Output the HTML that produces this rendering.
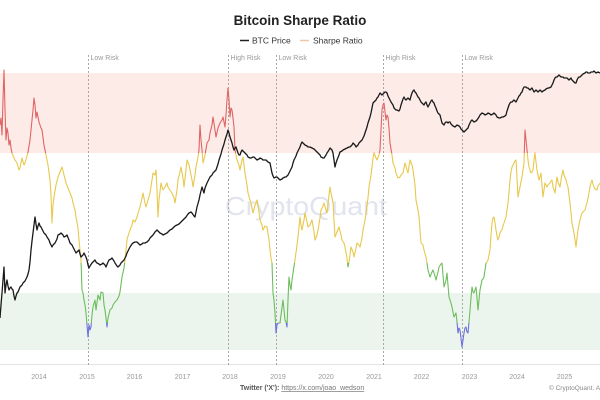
<!DOCTYPE html>
<html>
<head>
<meta charset="utf-8">
<style>
html,body{margin:0;padding:0;background:#fff;}
svg{display:block;}
text{font-family:"Liberation Sans",sans-serif;}
</style>
</head>
<body>
<svg width="600" height="400" viewBox="0 0 600 400" xmlns="http://www.w3.org/2000/svg">
<defs>
<linearGradient id="sg" gradientUnits="userSpaceOnUse" x1="0" y1="0" x2="0" y2="400">
<stop offset="0" stop-color="#e06464"/>
<stop offset="0.3825" stop-color="#e06464"/>
<stop offset="0.3825" stop-color="#e8c84c"/>
<stop offset="0.6575" stop-color="#e8c84c"/>
<stop offset="0.6575" stop-color="#6cbd5c"/>
<stop offset="0.8075" stop-color="#6cbd5c"/>
<stop offset="0.8075" stop-color="#6e70dc"/>
<stop offset="1" stop-color="#6e70dc"/>
</linearGradient>
</defs>
<rect x="0" y="0" width="600" height="400" fill="#fff"/>
<!-- bands -->
<rect x="0" y="73" width="600" height="80" fill="#fdebe8"/>
<rect x="0" y="293" width="600" height="57" fill="#ebf5ed"/>
<!-- watermark -->
<text x="306" y="215" font-size="26" fill="#e1e4ee" text-anchor="middle" textLength="162" lengthAdjust="spacingAndGlyphs">CryptoQuant</text>
<!-- axis line -->
<line x1="0" y1="364.5" x2="600" y2="364.5" stroke="#e4e4e4" stroke-width="1"/>
<!-- dashed lines -->
<g stroke="#a8a8a8" stroke-width="1" stroke-dasharray="2,2">
<line x1="88.5" y1="55" x2="88.5" y2="365"/>
<line x1="228.5" y1="55" x2="228.5" y2="365"/>
<line x1="276.5" y1="55" x2="276.5" y2="365"/>
<line x1="383.5" y1="55" x2="383.5" y2="365"/>
<line x1="462.5" y1="55" x2="462.5" y2="365"/>
</g>
<g font-size="7" fill="#9a9a9a">
<text x="90.5" y="60">Low Risk</text>
<text x="230.5" y="60">High Risk</text>
<text x="278.5" y="60">Low Risk</text>
<text x="385.5" y="60">High Risk</text>
<text x="464.5" y="60">Low Risk</text>
</g>
<!-- Sharpe ratio -->
<polyline fill="none" stroke="url(#sg)" stroke-width="1.1" stroke-linejoin="round" points="0,125 1,118 2,135 3,100 4,70 5,110 6,140 7,128 8,133 9,145 10,140 11,148 12,153 14,158 15,160 17,163 19,170 20,168 22,158 24,165 25,163 27,156 28,152 30,140 31,130 33,110 34,98 35,105 36,118 37,112 39,122 41,128 42,130 44,145 46,155 48,165 50,180 51,195 52,223 53,205 54,197 56,185 58,177 60,172 62,167 64,175 66,183 68,188 70,193 72,198 73,203 75,210 76,217 78,228 79,240 80,250 81,260 82,290 83,293 84,300 85,305 86,313 87,325 88,337 89,325 90,330 91,327 92,315 93,307 95,300 96,310 98,295 100,300 101,292 103,293 104,305 105,310 106,318 107,327 108,318 110,310 112,308 113,305 115,302 117,300 119,296 120,292 122,277 124,268 125,260 127,240 128,236 130,230 132,225 133,220 135,222 137,217 139,210 140,207 142,198 143,193 145,203 146,207 148,200 150,193 152,180 153,173 155,175 156,170 157,190 158,217 159,200 161,183 163,190 165,187 167,183 168,187 170,190 172,193 174,198 175,203 177,190 178,180 180,172 181,167 183,178 184,187 186,170 187,160 189,165 190,170 192,180 193,187 195,175 196,167 198,157 199,150 200,125 201,140 202,150 203,163 205,155 207,143 209,140 210,133 212,125 213,117 215,130 216,137 218,128 220,123 222,120 223,117 225,127 226,115 227,100 228,88 229,100 230,117 231,108 232,110 233,118 234,127 235,150 236,155 237,160 239,165 240,170 242,160 243,157 245,173 247,185 248,193 250,200 251,203 253,213 255,205 257,200 259,212 260,220 262,225 263,230 265,226 267,227 269,240 270,250 271,258 272,263 273,293 274,300 275,313 276,333 277,325 278,323 280,323 281,315 283,300 284,310 285,320 286,322 287,327 288,300 289,277 290,285 291,290 292,280 293,273 295,260 297,245 298,237 300,217 301,225 302,230 304,220 305,213 307,222 308,227 310,225 312,220 314,232 315,240 317,235 318,230 320,218 321,210 323,206 324,203 326,210 327,213 329,195 330,187 331,193 333,203 334,220 335,237 337,232 339,227 341,235 342,240 344,243 345,247 347,258 348,267 349,262 351,247 353,252 354,257 356,248 357,243 359,245 360,247 362,238 363,230 365,220 366,213 368,198 369,187 371,175 372,167 373,158 374,153 376,158 377,160 379,155 380,150 381,130 382,110 383,105 384,103 385,112 386,120 387,115 388,117 389,128 390,143 392,155 393,163 395,168 396,173 398,178 400,177 401,175 403,173 405,163 407,170 408,173 410,160 412,165 413,170 415,185 416,200 418,210 419,217 420,230 421,243 423,245 424,250 426,257 427,263 428,270 430,277 432,272 433,270 435,276 436,280 438,272 439,267 441,264 442,263 443,275 444,287 446,280 447,273 448,285 449,297 451,303 452,307 453,312 454,317 455,315 456,313 457,322 458,333 459,328 460,330 461,338 462,347 463,340 464,333 465,328 466,327 467,332 468,333 469,322 470,310 471,298 472,287 473,292 474,293 475,290 476,287 477,298 478,310 479,300 480,290 481,285 482,280 483,279 484,277 485,270 486,263 487,262 488,260 489,255 490,250 491,235 492,223 493,218 494,217 495,223 496,230 497,236 498,240 499,237 500,233 501,231 502,230 503,226 504,223 505,220 506,217 507,210 508,203 509,192 510,180 511,172 512,167 513,165 514,163 515,161 516,160 517,178 518,197 519,192 520,187 521,182 522,177 523,170 524,163 525,130 526,140 527,150 528,160 529,167 530,170 531,173 532,172 533,170 534,160 535,153 536,162 537,170 538,175 539,180 540,177 541,173 542,185 543,197 544,190 545,183 546,185 547,187 548,185 550,183 551,181 552,180 553,187 555,193 556,185 557,177 558,182 560,187 561,180 563,170 564,175 566,180 567,184 568,187 569,195 570,203 571,213 572,223 573,228 574,233 575,240 576,247 577,238 578,230 579,225 580,220 581,216 582,213 583,212 585,210 586,206 587,203 588,198 589,193 590,187 591,183 592,180 593,184 594,187 595,189 597,190 598,186 600,183"/>
<!-- BTC price -->
<polyline fill="none" stroke="#1a1a1a" stroke-width="1.3" stroke-linejoin="round" points="0,318 1,305 2,293 3,280 4,267 5,293 6,285 7,280 8,286 9,290 10,288 11,287 12,289 13,290 14,296 15,300 16,296 17,293 18,292 20,287 22,285 23,283 25,281 27,277 28,274 29,270 30,262 31,250 32,241 33,233 34,225 35,217 36,224 37,230 38,226 39,223 40,226 41,227 42,229 44,233 46,235 47,237 49,240 50,243 52,247 53,245 55,243 57,239 58,235 60,234 61,233 63,235 64,237 66,236 67,235 69,240 70,243 72,245 73,247 75,251 76,253 78,251 79,250 80,254 81,257 83,255 84,253 86,257 87,260 88,265 89,268 90,266 92,263 94,261 95,260 96,262 97,263 99,264 100,265 102,264 103,263 105,265 106,267 108,262 109,260 111,259 112,258 114,261 115,263 117,266 118,267 120,265 121,263 123,261 124,260 126,256 127,253 129,249 130,247 132,244 133,243 135,242 137,242 139,244 140,245 142,244 143,243 145,243 147,242 149,240 150,238 152,236 153,235 155,232 157,230 159,232 160,233 162,234 163,235 165,234 167,233 169,231 170,230 172,229 173,228 175,226 177,225 179,224 180,223 182,221 183,220 185,218 186,217 188,214 189,213 191,212 192,213 194,216 195,217 196,212 197,207 199,200 200,195 202,187 204,193 205,188 207,183 209,179 210,177 212,175 213,173 215,171 216,170 218,164 219,160 221,154 222,150 224,144 225,140 227,134 228,130 229,133 230,137 231,140 232,143 233,147 234,150 235,148 236,147 237,150 238,153 239,155 240,155 241,152 242,150 243,151 245,153 247,155 248,157 250,158 251,158 253,157 254,157 256,159 257,160 259,159 260,158 262,159 263,160 265,160 266,160 267,161 268,162 270,163 271,168 272,173 273,176 274,178 276,177 277,177 279,179 280,180 282,179 283,178 285,177 286,177 288,175 289,173 291,169 292,167 293,163 294,160 296,156 297,153 299,149 300,147 301,144 302,142 304,144 305,145 307,146 308,147 310,147 312,148 314,149 315,150 317,152 318,153 320,155 321,157 323,158 324,158 326,155 327,153 329,150 330,148 332,150 333,153 334,160 335,167 336,163 337,160 339,155 340,152 342,151 343,150 345,149 347,148 349,147 350,147 352,145 353,143 355,145 356,147 358,145 359,143 361,141 362,140 364,136 365,133 367,127 368,123 370,117 371,113 372,108 373,103 375,101 376,100 377,98 378,97 379,95 380,93 381,94 382,95 384,93 385,92 386,92 387,93 388,96 389,98 390,100 391,102 393,105 394,108 396,110 397,110 399,111 400,109 401,105 402,102 403,99 404,97 405,99 406,100 407,99 408,98 409,99 410,100 411,96 412,93 413,91 414,90 415,92 416,93 417,95 418,97 419,98 420,100 421,102 422,103 423,104 424,105 425,103 426,102 427,105 428,107 429,105 430,103 431,101 432,100 433,102 434,103 435,106 436,108 437,111 438,113 439,114 440,115 441,119 442,123 443,124 444,125 445,123 446,122 447,122 448,123 449,122 450,122 451,124 452,125 453,126 455,127 456,126 457,125 459,126 460,127 461,129 462,130 463,131 464,132 465,131 466,130 467,129 468,128 469,125 470,123 471,121 472,120 473,121 474,122 476,121 477,120 479,117 480,115 481,114 482,113 484,114 485,115 487,114 488,113 490,114 491,115 493,114 494,113 496,115 497,117 499,118 500,118 502,117 503,117 505,116 506,115 507,111 508,108 509,105 510,103 511,102 512,102 513,101 514,100 515,101 516,102 517,100 518,98 519,96 520,95 521,93 522,92 523,89 524,87 525,87 526,87 527,88 528,88 529,89 530,90 531,89 532,88 533,90 534,92 535,91 536,90 537,91 538,92 539,91 540,90 541,91 542,92 543,91 545,90 546,89 548,88 549,88 551,87 552,85 553,83 554,80 555,78 556,77 557,77 558,76 559,75 560,76 561,77 562,77 563,77 564,78 565,78 566,78 567,78 568,79 569,80 570,79 571,78 572,80 574,82 575,83 576,83 577,80 578,78 579,77 580,77 581,76 582,75 583,74 585,73 586,72 587,72 588,73 590,73 591,72 593,72 594,71 595,72 596,73 598,72 600,73"/>
<!-- title -->
<text x="300" y="25" font-size="13.5" font-weight="bold" fill="#222" text-anchor="middle">Bitcoin Sharpe Ratio</text>
<!-- legend -->
<line x1="240" y1="40.5" x2="249" y2="40.5" stroke="#222" stroke-width="1.5"/>
<text x="252" y="43.5" font-size="8.5" fill="#333">BTC Price</text>
<line x1="300" y1="40.5" x2="309" y2="40.5" stroke="#efc7a6" stroke-width="1.5"/>
<text x="313" y="43.5" font-size="8.5" fill="#333">Sharpe Ratio</text>
<!-- x labels -->
<g font-size="7" fill="#999" text-anchor="middle">
<text x="39" y="379">2014</text>
<text x="87" y="379">2015</text>
<text x="134.5" y="379">2016</text>
<text x="182.5" y="379">2017</text>
<text x="230" y="379">2018</text>
<text x="278" y="379">2019</text>
<text x="326" y="379">2020</text>
<text x="374" y="379">2021</text>
<text x="421.5" y="379">2022</text>
<text x="469.5" y="379">2023</text>
<text x="517" y="379">2024</text>
<text x="564.5" y="379">2025</text>
</g>
<!-- footer -->
<text x="240" y="390" font-size="7" fill="#555"><tspan font-weight="bold">Twitter ('X'):</tspan> <tspan fill="#777" text-decoration="underline">https://x.com/joao_wedson</tspan></text>
<text x="549" y="390" font-size="6.5" fill="#888">© CryptoQuant. All Rights Reserved</text>
</svg>
</body>
</html>
